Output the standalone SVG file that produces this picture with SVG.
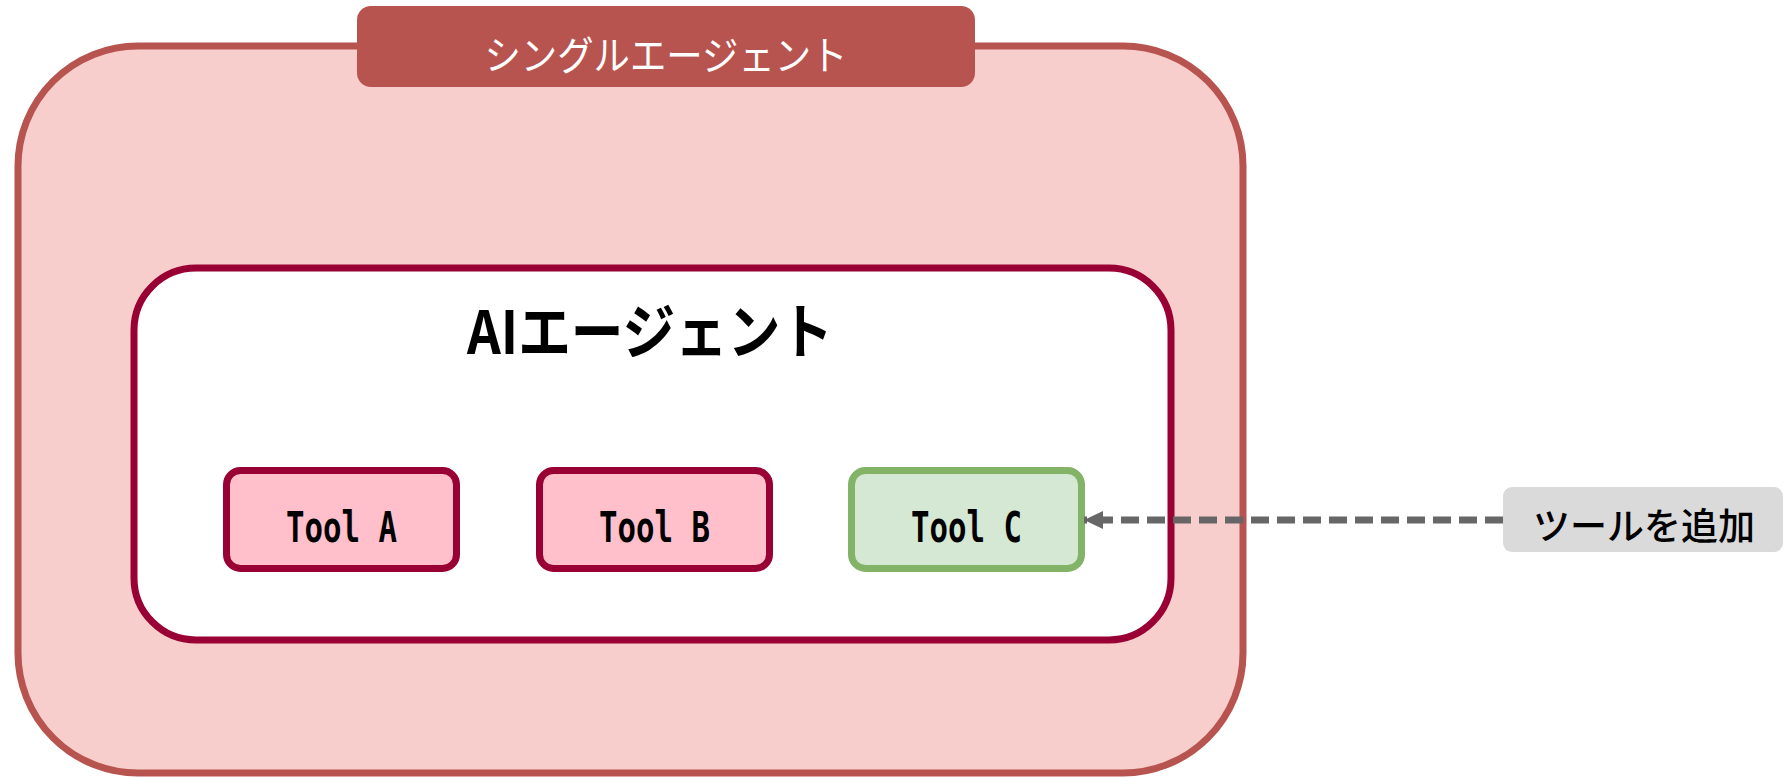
<svg xmlns="http://www.w3.org/2000/svg" width="1792" height="777" viewBox="0 0 1792 777">
<defs>
<style>
.tool{fill:#ffc0cb;stroke:#990033;stroke-width:7}
.toolc{fill:#d5e8d4;stroke:#82b366;stroke-width:7}
.tt{font-family:"DejaVu Sans Mono","Liberation Mono",monospace;font-size:42px;font-weight:bold;fill:#000;text-anchor:middle}
.jp{font-family:"Noto Sans CJK JP","Noto Sans",sans-serif;text-anchor:middle}
</style>
<marker id="ah" markerUnits="userSpaceOnUse" markerWidth="20" markerHeight="20" refX="19" refY="9" orient="auto">
<path d="M0,0 L19,9 L0,18 Z" fill="#666666"/>
</marker>
</defs>
<rect width="1792" height="777" fill="#ffffff"/>
<g id="single-agent">
<rect x="18" y="46" width="1225" height="727" rx="120" ry="120" fill="#f8cecc" stroke="#b85450" stroke-width="7"/>
<rect x="357" y="6" width="618" height="81" rx="14" ry="14" fill="#b85450"/>
<text class="jp" x="666" y="70" font-size="40" fill="#ffffff" textLength="363" lengthAdjust="spacingAndGlyphs">シングルエージェント</text>
</g>
<g id="ai-agent">
<rect x="134" y="268" width="1037" height="372" rx="62" ry="62" fill="#ffffff" stroke="#990033" stroke-width="7"/>
<text class="jp" x="650" y="354" font-size="60" font-weight="bold" fill="#000000" textLength="366" lengthAdjust="spacingAndGlyphs">AIエージェント</text>
</g>
<g id="tool-a">
<rect class="tool" x="226.5" y="470.5" width="230" height="98" rx="14" ry="14"/>
<text class="tt" x="341.5" y="542" textLength="111" lengthAdjust="spacingAndGlyphs">Tool A</text>
</g>
<g id="tool-b">
<rect class="tool" x="539.5" y="470.5" width="230" height="98" rx="14" ry="14"/>
<text class="tt" x="654.5" y="542" textLength="111" lengthAdjust="spacingAndGlyphs">Tool B</text>
</g>
<g id="tool-c">
<rect class="toolc" x="851.5" y="470.5" width="230" height="98" rx="14" ry="14"/>
<text class="tt" x="966.5" y="542" textLength="111" lengthAdjust="spacingAndGlyphs">Tool C</text>
</g>
<g id="add-tool-label">
<rect x="1503" y="487" width="280" height="65" rx="9" ry="9" fill="#dadada"/>
<text class="jp" x="1644" y="540" font-size="37" font-weight="500" fill="#000000">ツールを追加</text>
</g>
<g id="connectors">
<line x1="1503" y1="520" x2="1084" y2="520" stroke="#666666" stroke-width="7" stroke-dasharray="18 8" marker-end="url(#ah)"/>
</g>
</svg>
